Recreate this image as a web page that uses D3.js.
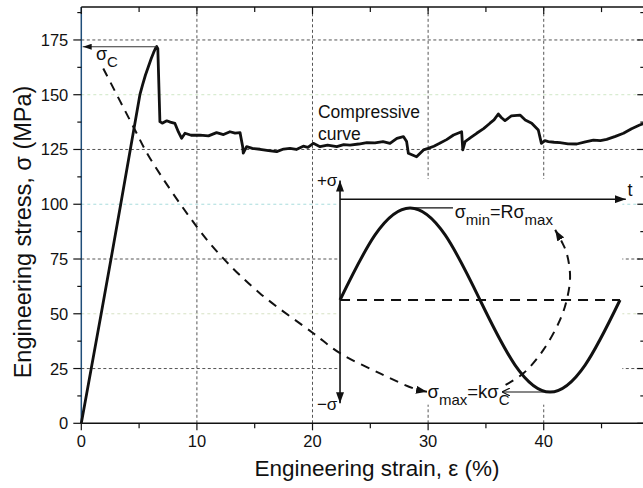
<!DOCTYPE html>
<html><head><meta charset="utf-8">
<script src="https://cdn.jsdelivr.net/npm/d3@7"></script>
<style>
html,body{margin:0;padding:0;background:#fff;}
svg text{font-family:"Liberation Sans",Arial,sans-serif;fill:#111;}
</style></head>
<body><svg id="c" width="643" height="488"></svg>
<script>
// ---------- data ----------
const xTicks = [0, 10, 20, 30, 40];
const yTicks = [0, 25, 50, 75, 100, 125, 150, 175];
const xMinor = [5, 15, 25, 35, 45];
const yMinor = [12.5, 37.5, 62.5, 87.5, 112.5, 137.5, 162.5, 187.5];

// compressive stress-strain curve (strain %, stress MPa)
const strain = [0,0.86,1.72,2.57,3.41,4.24,5.07,5.3,5.55,5.8,6.05,6.25,6.42,6.52,6.62,6.8,7.0,7.39,7.7,8.1,8.4,8.68,8.97,9.5,10.27,11.0,11.7,12.3,12.86,13.3,13.73,13.96,14.01,14.3,14.8,15.46,16.2,16.9,17.5,18.05,18.6,19.2,19.6,20.07,20.65,21.3,22.1,22.7,23.24,24.0,24.7,25.4,26.1,26.7,27.3,27.86,28.14,28.29,29.0,29.6,30.0,30.5,31.0,31.6,32.2,32.9,33.0,33.2,33.7,34.2,34.8,35.35,35.7,36.07,36.35,36.65,37.2,37.95,38.4,38.96,39.53,39.8,40.1,40.4,40.9,41.4,42.1,42.85,43.6,44.3,44.9,45.45,46.2,46.9,47.6,48.3,48.7];
const stress = [0,25,50,75,100,125,150,154.5,159,162.8,166.5,169.2,171.2,172,171,137.7,137,138.1,137.5,136.9,133,130.1,132.4,131.5,131.6,131.2,132.7,131.8,133.1,132.5,132.7,126.3,123.3,126.3,125.5,125.1,124.5,124,125.2,125.5,125,126.5,126,127.8,126.3,127,126.3,127.2,127,127.5,128.1,128,128.6,127.8,130.1,130.9,128.6,123.3,121.7,124.8,125.5,126.5,127.8,129.5,131.6,133.1,124.8,128.6,130.5,132.4,134.5,137,138.5,141.2,139.5,138.2,140.3,140.7,138.5,137,133.9,127.8,129,128.6,128.3,128.1,127.6,127.5,128.5,129.3,129,129.6,131,132.4,134.5,136.2,137];

// dashed loading path from sigma_C down to sigma_max
const pathAStrain = [1.9,4.5,5.94,9.98,12.28,15.46,20.07,22.38,25.84,28.7,29.9];
const pathAStress = [162,135.4,121,89.8,75.3,59.3,41.1,32,22.8,16,14.4];
// dashed path from sigma_max up to sigma_min
const pathBStrain = [36.7,38.24,39.97,41.41,41.99,42.28,41.99,41.56,40.99];
const pathBStress = [17.5,22.8,33.5,47.2,56.3,66.9,77.6,82.9,88.3];

// inset cyclic loading wave (read at quarter points)
const waveStrain = [22.38,25.41,28.44,31.47,34.49,37.52,40.55,43.58,46.6];
const waveStress = [56.3,86.0,98.3,86.0,56.3,26.6,14.3,26.6,56.3];

// ---------- layout ----------
const svg = d3.select("#c");
const x = d3.scaleLinear().domain([0, 48.7]).range([81.3, 644.3]);
const y = d3.scaleLinear().domain([0, 190]).range([423.3, 7.1]);
const X0 = x(0), X1 = x(48.7), Y0 = y(0), Y1 = y(190);

const defs = svg.append("defs");
function marker(id, w, h, filled) {
  const m = defs.append("marker").attr("id", id)
    .attr("viewBox", `0 0 ${w} ${h}`).attr("refX", w).attr("refY", h/2)
    .attr("markerWidth", w).attr("markerHeight", h)
    .attr("markerUnits", "userSpaceOnUse").attr("orient", "auto-start-reverse");
  if (filled) m.append("path").attr("d", `M0,0L${w},${h/2}L0,${h}Z`).attr("fill", "#111");
  else m.append("path").attr("d", `M0,0L${w},${h/2}L0,${h}`).attr("fill", "none").attr("stroke", "#111").attr("stroke-width", 1.2);
}
marker("arr", 11, 8, true);
marker("arrS", 9, 6, true);
marker("arrO", 8, 8, false);

// grid
const lightGrid = {50: "#d6e2c4", 100: "#a9dcdc", 150: "#cfe7c6"};
svg.append("g").selectAll("line").data(yTicks.filter(d => d > 0)).join("line")
  .attr("x1", X0).attr("x2", X1).attr("y1", d => y(d)).attr("y2", d => y(d))
  .attr("stroke", d => lightGrid[d] || "#555").attr("stroke-width", 1)
  .attr("stroke-dasharray", d => lightGrid[d] ? "3,3" : "3,2.5");
svg.append("g").selectAll("line").data(xTicks.filter(d => d > 0)).join("line")
  .attr("x1", d => x(d)).attr("x2", d => x(d)).attr("y1", Y0).attr("y2", Y1)
  .attr("stroke", "#555").attr("stroke-width", 1).attr("stroke-dasharray", "3,2.5");

// inset background
svg.append("rect").attr("x", x(22.2)).attr("y", y(111.5)).attr("width", x(46.8) - x(22.2))
  .attr("height", y(8.5) - y(111.5)).attr("fill", "#fff");

// axes
const ax = svg.append("g");
ax.append("line").attr("x1", X0).attr("x2", X1).attr("y1", Y1).attr("y2", Y1).attr("stroke", "#111").attr("stroke-width", 1.5);
ax.append("line").attr("x1", X0).attr("x2", X1).attr("y1", Y0).attr("y2", Y0).attr("stroke", "#111").attr("stroke-width", 1.5);
ax.append("line").attr("x1", X0).attr("x2", X0).attr("y1", Y0).attr("y2", Y1).attr("stroke", "#1f4e79").attr("stroke-width", 1.5);
ax.selectAll(".bt").data(xTicks.concat(xMinor)).join("line")
  .attr("x1", d => x(d)).attr("x2", d => x(d)).attr("y1", Y0).attr("y2", d => Y0 + (xTicks.includes(d) ? 7 : 5))
  .attr("stroke", "#111").attr("stroke-width", 1.2);
ax.selectAll(".tt").data(xTicks.concat(xMinor)).join("line")
  .attr("x1", d => x(d)).attr("x2", d => x(d)).attr("y1", Y1).attr("y2", d => Y1 + (xTicks.includes(d) ? 7 : 5))
  .attr("stroke", "#111").attr("stroke-width", 1.2);
ax.selectAll(".lt").data(yTicks.concat(yMinor)).join("line")
  .attr("x1", d => X0 - (yTicks.includes(d) ? 8 : 4)).attr("x2", X0).attr("y1", d => y(d)).attr("y2", d => y(d))
  .attr("stroke", "#111").attr("stroke-width", 1.2);
ax.selectAll(".rt").data(yTicks.concat(yMinor)).join("line")
  .attr("x1", d => X1 - (yTicks.includes(d) ? 7 : 4)).attr("x2", X1).attr("y1", d => y(d)).attr("y2", d => y(d))
  .attr("stroke", "#111").attr("stroke-width", 1.2);
ax.selectAll(".xl").data(xTicks).join("text")
  .attr("x", d => x(d)).attr("y", Y0 + 24).attr("text-anchor", "middle").attr("font-size", 16.5).text(d => d);
ax.selectAll(".yl").data(yTicks).join("text")
  .attr("x", X0 - 13).attr("y", d => y(d) + 6).attr("text-anchor", "end").attr("font-size", 16.5).text(d => d);
// axis titles
svg.append("text").attr("x", 377).attr("y", 476).attr("text-anchor", "middle").attr("font-size", 22.5)
  .text("Engineering strain, \u03B5 (%)");
svg.append("text").attr("transform", "translate(31,232) rotate(-90)").attr("text-anchor", "middle").attr("font-size", 23.5)
  .text("Engineering stress, \u03C3 (MPa)");

// main curve
const line = d3.line().x(d => x(d[0])).y(d => y(d[1]));
svg.append("path").datum(d3.zip(strain, stress)).attr("d", line)
  .attr("fill", "none").attr("stroke", "#111").attr("stroke-width", 2.8).attr("stroke-linejoin", "round");

// sigma_C arrow to axis
svg.append("line").attr("x1", x(6.52)).attr("x2", x(0.12)).attr("y1", y(171.9)).attr("y2", y(171.9))
  .attr("stroke", "#333").attr("stroke-width", 1.1).attr("marker-end", "url(#arrS)");
const sc = svg.append("text").attr("x", x(1.27)).attr("y", y(165.8)).attr("font-size", 18);
sc.append("tspan").text("\u03C3");
sc.append("tspan").attr("dy", 7).attr("font-size", 15).text("C");

svg.append("text").attr("x", x(20.47)).attr("y", y(139.4)).attr("font-size", 17.5).text("Compressive");
svg.append("text").attr("x", x(20.47)).attr("y", y(129.3)).attr("font-size", 17.5).text("curve");

// inset axes
svg.append("line").attr("x1", x(22.38)).attr("x2", x(22.38)).attr("y1", y(110.8)).attr("y2", y(9.2))
  .attr("stroke", "#111").attr("stroke-width", 1.6).attr("marker-start", "url(#arr)").attr("marker-end", "url(#arr)");
svg.append("line").attr("x1", x(22.38)).attr("x2", x(47.1)).attr("y1", y(102.3)).attr("y2", y(102.3))
  .attr("stroke", "#111").attr("stroke-width", 1.6).attr("marker-end", "url(#arr)");
svg.append("text").attr("x", x(47.25)).attr("y", y(103.7)).attr("font-size", 18).text("t");
svg.append("text").attr("x", x(22.15)).attr("y", y(108.4)).attr("text-anchor", "end").attr("font-size", 17).text("+\u03C3");
svg.append("text").attr("x", x(22.15)).attr("y", y(6.2)).attr("text-anchor", "end").attr("font-size", 17).text("\u2212\u03C3");

// mean dashed line
svg.append("line").attr("x1", x(22.38)).attr("x2", x(46.6)).attr("y1", y(56.3)).attr("y2", y(56.3))
  .attr("stroke", "#111").attr("stroke-width", 2).attr("stroke-dasharray", "10,7");

// wave
const smooth = d3.line().x(d => x(d[0])).y(d => y(d[1])).curve(d3.curveNatural);
svg.append("path").datum(d3.zip(waveStrain, waveStress)).attr("d", smooth)
  .attr("fill", "none").attr("stroke", "#111").attr("stroke-width", 3);

// peak / trough reference lines
svg.append("line").attr("x1", x(28.44)).attr("x2", x(32.15)).attr("y1", y(98.3)).attr("y2", y(98.3))
  .attr("stroke", "#111").attr("stroke-width", 1.2);
svg.append("line").attr("x1", x(40.55)).attr("x2", x(36.4)).attr("y1", y(14.3)).attr("y2", y(14.3))
  .attr("stroke", "#111").attr("stroke-width", 1.2).attr("marker-end", "url(#arrO)");

const smin = svg.append("text").attr("x", x(32.3)).attr("y", y(93.9)).attr("font-size", 18);
smin.append("tspan").text("\u03C3");
smin.append("tspan").attr("dy", 7).attr("font-size", 15).text("min");
smin.append("tspan").attr("dy", -7).text("=R\u03C3");
smin.append("tspan").attr("dy", 7).attr("font-size", 15).text("max");

const smax = svg.append("text").attr("x", x(29.95)).attr("y", y(11.6)).attr("font-size", 18.5);
smax.append("tspan").text("\u03C3");
smax.append("tspan").attr("dy", 7).attr("font-size", 15).text("max");
smax.append("tspan").attr("dy", -7).text("=k\u03C3");
smax.append("tspan").attr("dy", 7).attr("font-size", 15).text("C");

// dashed paths
const dashLine = d3.line().x(d => x(d[0])).y(d => y(d[1])).curve(d3.curveCatmullRom);
svg.append("path").datum(d3.zip(pathAStrain, pathAStress)).attr("d", dashLine)
  .attr("fill", "none").attr("stroke", "#111").attr("stroke-width", 2).attr("stroke-dasharray", "9,7")
  .attr("marker-end", "url(#arr)");
svg.append("path").datum(d3.zip(pathBStrain, pathBStress)).attr("d", dashLine)
  .attr("fill", "none").attr("stroke", "#111").attr("stroke-width", 2).attr("stroke-dasharray", "9,7")
  .attr("marker-end", "url(#arr)");
</script></body></html>
